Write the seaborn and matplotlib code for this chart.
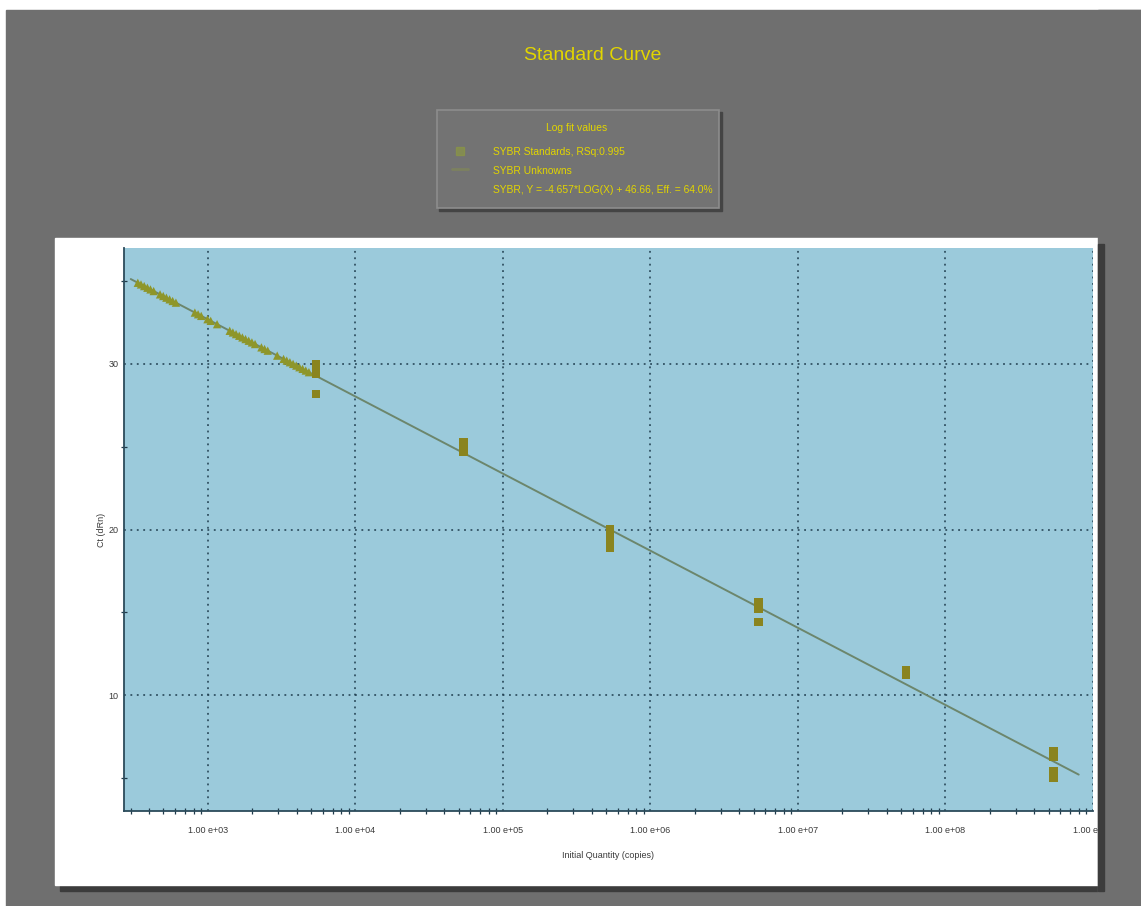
import numpy as np
import pandas as pd
import matplotlib
matplotlib.use("Agg")
import matplotlib.pyplot as plt
import seaborn as sns
from matplotlib.patches import Rectangle
from matplotlib.lines import Line2D
from matplotlib.ticker import FixedLocator, FixedFormatter, LogLocator, NullFormatter

# standards: 10-fold dilution series (copies, Ct)
std_qty = [5.4e3, 5.4e3, 5.4e3, 5.4e3,
           5.4e4, 5.4e4, 5.4e4, 5.4e4,
           5.3e5, 5.3e5, 5.3e5, 5.3e5, 5.3e5,
           5.4e6, 5.4e6, 5.4e6,
           5.4e7, 5.4e7,
           5.4e8, 5.4e8, 5.4e8, 5.4e8]
std_ct = [30.0, 29.7, 29.4, 28.2,
          25.3, 25.1, 24.9, 24.7,
          20.0, 19.7, 19.4, 19.1, 18.9,
          15.6, 15.2, 14.4,
          11.5, 11.2,
          6.6, 6.3, 5.4, 5.0]

# unknowns
unk_qty = [335, 352, 370, 389, 408, 429, 474, 498, 523, 550, 577, 607,
           816, 858, 901, 994, 1045, 1154, 1406, 1477, 1552, 1631, 1713,
           1800, 1891, 1988, 2088, 2306, 2422, 2545, 2951, 3258, 3423,
           3597, 3780, 3972, 4173, 4385, 4607, 4840]
unk_ct = [34.9, 34.8, 34.7, 34.6, 34.5, 34.4, 34.2, 34.1, 34.0, 33.9, 33.8, 33.7,
          33.1, 33.0, 32.9, 32.7, 32.6, 32.4, 32.0, 31.9, 31.8, 31.7, 31.6,
          31.5, 31.4, 31.3, 31.2, 31.0, 30.9, 30.8, 30.5, 30.3, 30.2,
          30.1, 30.0, 29.9, 29.8, 29.7, 29.6, 29.5]

# fit from the legend
slope = -4.657
intercept = 46.66
fit_range = [300, 8.0e8]

x_ticks = [1e3, 1e4, 1e5, 1e6, 1e7, 1e8, 1e9]
x_tick_labels = ["1.00 e+03", "1.00 e+04", "1.00 e+05", "1.00 e+06",
                 "1.00 e+07", "1.00 e+08", "1.00 e+09"]
y_ticks = [10, 20, 30]
y_minor = [5, 15, 25, 35]

legend_lines = ["SYBR Standards, RSq:0.995",
                "SYBR Unknowns",
                "SYBR, Y = -4.657*LOG(X) + 46.66, Eff. = 64.0%"]

W, H = 1141, 906
BG = "#6f6f6f"
YEL = "#e2d500"
OLIVE = "#8a841f"

def fx(px):
    return px / W

def fy(py):
    return 1 - py / H

sns.set_style("white")
plt.rcParams["font.family"] = ["Liberation Sans", "DejaVu Sans"]

fig = plt.figure(figsize=(W / 100, H / 100), dpi=100, facecolor="white")
tf = fig.transFigure

def box(x0, y0, x1, y1, **kw):
    fig.patches.append(Rectangle((fx(x0), fy(y1)), fx(x1) - fx(x0), fy(y0) - fy(y1),
                                 transform=tf, **kw))

# backdrop, panel, shadow
box(6, 10, W, H, color=BG, zorder=-10)
box(60, 244, 1104, 891, color="#3c3c3c", zorder=-7)
box(55, 238, 1098, 885, color="white", zorder=-6)

ax = fig.add_axes([fx(124), fy(811), fx(1093) - fx(124), fy(248) - fy(811)])
ax.set_facecolor("#9bcadb")

std = pd.DataFrame({"qty": std_qty, "ct": std_ct})
unk = pd.DataFrame({"qty": unk_qty, "ct": unk_ct})
fit_x = np.array(fit_range)
fit = pd.DataFrame({"qty": fit_x, "ct": slope * np.log10(fit_x) + intercept})

sns.lineplot(data=fit, x="qty", y="ct", color="#6c866c", lw=1.4, ax=ax, zorder=3)
sns.scatterplot(data=unk, x="qty", y="ct", marker="^", s=36, color="#8e962a",
                edgecolor="none", ax=ax, zorder=4)
sns.scatterplot(data=std, x="qty", y="ct", marker="s", s=36, color=OLIVE,
                edgecolor="none", ax=ax, zorder=5)

ax.set_xscale("log")
ax.set_xlim(270, 1.0e9)
ax.set_ylim(3.0, 37.0)

ax.xaxis.set_major_locator(FixedLocator(x_ticks))
ax.xaxis.set_major_formatter(FixedFormatter(x_tick_labels))
ax.xaxis.set_minor_locator(LogLocator(base=10, subs=np.arange(2, 10)))
ax.xaxis.set_minor_formatter(NullFormatter())
ax.yaxis.set_major_locator(FixedLocator(y_ticks))
ax.yaxis.set_minor_locator(FixedLocator(y_minor))

ax.grid(True, which="major", color="#1f3d4e", linestyle=(0, (1.2, 3)), linewidth=1.1)
ax.tick_params(axis="x", which="major", direction="inout", length=6, width=1,
               colors="#1f3a4a", labelsize=6.5, labelcolor="#3a3a3a", pad=8)
ax.tick_params(axis="x", which="minor", direction="inout", length=4, width=0.9,
               colors="#1f3a4a", bottom=True)
ax.tick_params(axis="y", which="major", direction="inout", length=5, width=1,
               colors="#1f3a4a", labelsize=6.5, labelcolor="#3a3a3a", pad=1.5)
ax.tick_params(axis="y", which="minor", direction="inout", length=4, width=0.9,
               colors="#1f3a4a", left=True)
for s in ["top", "right"]:
    ax.spines[s].set_visible(False)
for s in ["left", "bottom"]:
    ax.spines[s].set_color("#2c4b5b")
    ax.spines[s].set_linewidth(1.3)

ax.set_xlabel("Initial Quantity (copies)", fontsize=6.5, color="#3a3a3a")
ax.set_ylabel("Ct (dRn)", fontsize=6.5, color="#3a3a3a")
ax.xaxis.set_label_coords(0.5, -(855 - 811) / (811 - 248))
ax.xaxis.label.set_va("center")
ax.yaxis.set_label_coords(-(124 - 102) / (1093 - 124), 0.5)
ax.yaxis.label.set_va("center")

# clip the right edge like the original panel
box(1098, 10, W, H, color=BG, zorder=6)
box(1098, 244, 1104, 891, color="#3c3c3c", zorder=7)

# title
fig.text(fx(593), fy(56), "Standard Curve", ha="center", va="center",
         fontsize=14, color=YEL)

# legend box
box(439, 112, 722, 211, color="#444444", zorder=1)
box(437, 110, 719, 208, facecolor="#737373", edgecolor="#8d8d8d", lw=1.2, zorder=2)
fig.text(fx(577), fy(128), "Log fit values", ha="center", va="center",
         fontsize=7.5, color=YEL, zorder=3)
row_y = [152, 171, 190]
for txt, ry in zip(legend_lines, row_y):
    fig.text(fx(493), fy(ry), txt, ha="left", va="center", fontsize=7.4,
             color=YEL, zorder=3)
fig.lines.append(Line2D([fx(460)], [fy(151)], transform=tf, marker="s", ms=6,
                        color="#8f9c3c", alpha=0.6, lw=0, zorder=3))
fig.lines.append(Line2D([fx(452), fx(468)], [fy(169), fy(169)], transform=tf,
                        color="#8f9c3c", alpha=0.35, lw=2, zorder=3))

fig.savefig("out.png", dpi=100, facecolor=fig.get_facecolor())
